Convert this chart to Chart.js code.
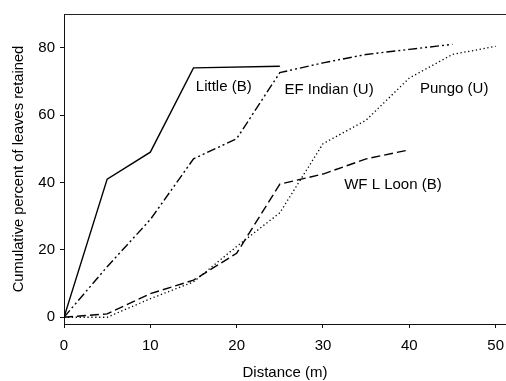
<!DOCTYPE html>
<html>
<head>
<meta charset="utf-8">
<script src="https://cdn.jsdelivr.net/npm/chart.js@4.4.0/dist/chart.umd.min.js"></script>
<style>
    html, body { margin: 0; padding: 0; background: #fff; }
    #wrap { width: 506px; height: 381px; }
</style>
</head>
<body>
<div id="wrap"><canvas id="chart1"></canvas></div>
<script>
const xTicks = [0, 10, 20, 30, 40, 50];
const yTicks = [0, 20, 40, 60, 80];

const littleX = [0, 5, 10, 15, 25];
const littleY = [0, 41, 49, 74, 74.5];

const efIndianX = [0, 5, 10, 15, 20, 25, 30, 35, 40, 45];
const efIndianY = [0, 15, 29, 47, 53, 72.6, 75.5, 78, 79.5, 81];

const wfLoonX = [0, 5, 10, 15, 20, 25, 30, 35, 40];
const wfLoonY = [0, 1, 7, 11, 19, 39.5, 42.5, 47, 49.7];

const pungoX = [0, 5, 10, 15, 20, 25, 30, 35, 40, 45, 50];
const pungoY = [0, 0, 5.5, 10.5, 21, 31, 51.5, 58.5, 71, 78, 80.4];

const seriesLabels = ['Little (B)', 'EF Indian (U)', 'WF L Loon (B)', 'Pungo (U)'];
// where each series name is written, in data units
const labelX = [18.5, 30.7, 38.1, 45.2];
const labelY = [68.3, 67.4, 39.3, 67.7];

const FONT = 'Liberation Sans, Arial, sans-serif';

function toPoints(xs, ys) {
    return xs.map((x, i) => ({ x: x, y: ys[i] }));
}

const seriesLabelsPlugin = {
    id: 'seriesLabels',
    afterDatasetsDraw(chart) {
        const ctx = chart.ctx;
        const xs = chart.scales.x, ys = chart.scales.y;
        ctx.save();
        ctx.font = '15px ' + FONT;
        ctx.fillStyle = '#000';
        ctx.textAlign = 'center';
        ctx.textBaseline = 'middle';
        seriesLabels.forEach((t, i) => {
            ctx.fillText(t, xs.getPixelForValue(labelX[i]), ys.getPixelForValue(labelY[i]));
        });
        // top frame line
        const a = chart.chartArea;
        ctx.strokeStyle = '#222';
        ctx.lineWidth = 1;
        ctx.beginPath();
        ctx.moveTo(a.left, a.top + 0.5);
        ctx.lineTo(a.right, a.top + 0.5);
        ctx.stroke();
        ctx.restore();
    }
};

const ctx = document.getElementById('chart1').getContext('2d');
new Chart(ctx, {
    type: 'line',
    data: {
        datasets: [
            {
                label: seriesLabels[0],
                data: toPoints(littleX, littleY),
                borderColor: '#000',
                borderWidth: 1.4
            },
            {
                label: seriesLabels[1],
                data: toPoints(efIndianX, efIndianY),
                borderColor: '#000',
                borderWidth: 1.4,
                borderDash: [9, 3, 2, 3, 2, 3]
            },
            {
                label: seriesLabels[2],
                data: toPoints(wfLoonX, wfLoonY),
                borderColor: '#000',
                borderWidth: 1.4,
                borderDash: [9, 4]
            },
            {
                label: seriesLabels[3],
                data: toPoints(pungoX, pungoY),
                borderColor: '#000',
                borderWidth: 1.3,
                borderDash: [1.3, 2.6]
            }
        ]
    },
    options: {
        responsive: true,
        maintainAspectRatio: false,
        animation: false,
        layout: { padding: { top: 11, right: 0, bottom: 0, left: 0 } },
        elements: { point: { radius: 0 }, line: { tension: 0, fill: false } },
        plugins: {
            legend: { display: false },
            tooltip: { enabled: false }
        },
        scales: {
            x: {
                type: 'linear',
                min: 0,
                max: 51.2,
                afterBuildTicks: scale => { scale.ticks = xTicks.map(v => ({ value: v })); },
                afterFit: scale => { scale.height = 57; scale.paddingRight = 0; },
                border: { display: true, color: '#111', width: 1 },
                grid: { drawOnChartArea: false, drawTicks: true, tickLength: 4, color: '#111' },
                ticks: { color: '#000', font: { family: FONT, size: 15 }, padding: 9, maxRotation: 0 },
                title: {
                    display: true,
                    text: 'Distance (m)',
                    color: '#000',
                    font: { family: FONT, size: 15 },
                    padding: { top: 0, bottom: -1 }
                }
            },
            y: {
                min: -2,
                max: 90,
                afterBuildTicks: scale => { scale.ticks = yTicks.map(v => ({ value: v })); },
                afterFit: scale => { scale.width = 64; },
                border: { display: true, color: '#111', width: 1 },
                grid: { drawOnChartArea: false, drawTicks: true, tickLength: 4, color: '#111' },
                ticks: { color: '#000', font: { family: FONT, size: 15 }, padding: 5 },
                title: {
                    display: true,
                    text: 'Cumulative percent of leaves retained',
                    color: '#000',
                    font: { family: FONT, size: 14.7 },
                    padding: { top: 10, bottom: 0 }
                }
            }
        }
    },
    plugins: [seriesLabelsPlugin]
});
</script>
</body>
</html>
